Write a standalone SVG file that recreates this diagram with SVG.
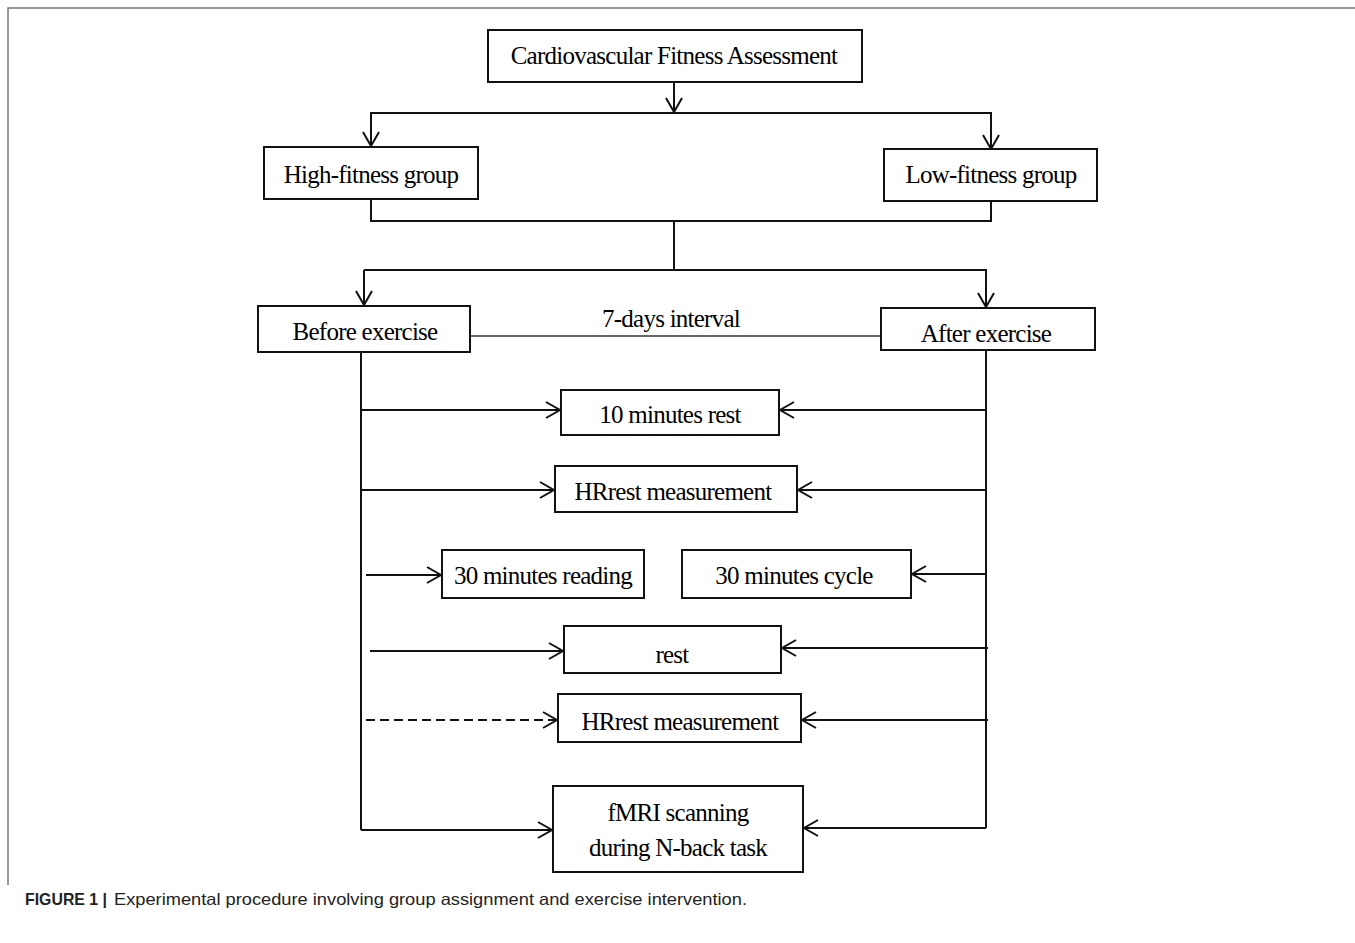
<svg xmlns="http://www.w3.org/2000/svg" width="1355" height="943" viewBox="0 0 1355 943">
<defs>
<style>
.box{fill:#fff;stroke:#111;stroke-width:2}
.t{font-family:"Liberation Serif","Times New Roman",serif;font-size:25px;fill:#000;text-anchor:middle;letter-spacing:-0.75px}
.ln{fill:none;stroke:#111;stroke-width:2}
.cap{font-family:"Liberation Sans",Arial,sans-serif;font-size:16.5px;fill:#222}
</style>
<marker id="ah" viewBox="0 0 20 20" refX="18" refY="10" markerWidth="20" markerHeight="20" markerUnits="userSpaceOnUse" orient="auto">
<path d="M4,2 L18,10 L4,18" fill="none" stroke="#111" stroke-width="2"/>
</marker>
</defs>
<rect width="1355" height="943" fill="#fff"/>
<path d="M8,885 L8,8 L1355,8" fill="none" stroke="#777" stroke-width="1.5"/>

<g id="connectors">
<path class="ln" d="M674,82 L674,112" marker-end="url(#ah)"/>
<path class="ln" d="M371,145 L371,113 L991,113 L991,149" marker-end="url(#ah)"/>
<path class="ln" d="M371,113 L371,146" marker-end="url(#ah)"/>
<path class="ln" d="M371,199 L371,221 L991,221 L991,201"/>
<path class="ln" d="M674,221 L674,270"/>
<path class="ln" d="M364,270 L986,270 L986,307" marker-end="url(#ah)"/>
<path class="ln" d="M364,270 L364,305" marker-end="url(#ah)"/>
<path d="M470,336 L881,336" fill="none" stroke="#333" stroke-width="1.5"/>
<path class="ln" d="M361,352 L361,830"/>
<path class="ln" d="M986,350 L986,828"/>
<path class="ln" d="M361,410 L560,410" marker-end="url(#ah)"/>
<path class="ln" d="M986,410 L780,410" marker-end="url(#ah)"/>
<path class="ln" d="M361,490 L554,490" marker-end="url(#ah)"/>
<path class="ln" d="M986,490 L798,490" marker-end="url(#ah)"/>
<path class="ln" d="M366,575 L441,575" marker-end="url(#ah)"/>
<path class="ln" d="M986,574 L912,574" marker-end="url(#ah)"/>
<path class="ln" d="M370,651 L563,651" marker-end="url(#ah)"/>
<path class="ln" d="M988,648 L782,648" marker-end="url(#ah)"/>
<path class="ln" d="M366,720 L557,720" stroke-dasharray="9,5" marker-end="url(#ah)"/>
<path class="ln" d="M988,720 L802,720" marker-end="url(#ah)"/>
<path class="ln" d="M361,830 L552,830" marker-end="url(#ah)"/>
<path class="ln" d="M986,828 L804,828" marker-end="url(#ah)"/>
<text class="t" x="671" y="327">7-days interval</text>
</g>

<g id="n-cfa"><rect class="box" x="488" y="30" width="374" height="52"/><text class="t" x="674" y="64">Cardiovascular Fitness Assessment</text></g>
<g id="n-high"><rect class="box" x="264" y="147" width="214" height="52"/><text class="t" x="371" y="183">High-fitness group</text></g>
<g id="n-low"><rect class="box" x="884" y="149" width="213" height="52"/><text class="t" x="991" y="183">Low-fitness group</text></g>
<g id="n-before"><rect class="box" x="258" y="306" width="212" height="46"/><text class="t" x="365" y="340">Before exercise</text></g>
<g id="n-after"><rect class="box" x="881" y="308" width="214" height="42"/><text class="t" x="986" y="342">After exercise</text></g>
<g id="n-rest10"><rect class="box" x="561" y="390" width="218" height="45"/><text class="t" x="670" y="423">10 minutes rest</text></g>
<g id="n-hr1"><rect class="box" x="555" y="466" width="242" height="46"/><text class="t" x="673" y="500">HRrest measurement</text></g>
<g id="n-read"><rect class="box" x="442" y="550" width="202" height="48"/><text class="t" x="543" y="584" font-size="24" letter-spacing="-1">30 minutes reading</text></g>
<g id="n-cycle"><rect class="box" x="682" y="550" width="229" height="48"/><text class="t" x="794" y="584">30 minutes cycle</text></g>
<g id="n-rest"><rect class="box" x="564" y="626" width="217" height="47"/><text class="t" x="672" y="663">rest</text></g>
<g id="n-hr2"><rect class="box" x="558" y="694" width="243" height="48"/><text class="t" x="680" y="730">HRrest measurement</text></g>
<g id="n-fmri"><rect class="box" x="553" y="786" width="250" height="86"/><text class="t" x="678" y="821">fMRI scanning</text><text class="t" x="678" y="856">during N-back task</text></g>

<text class="cap" x="25" y="905" font-weight="bold" textLength="82" lengthAdjust="spacingAndGlyphs">FIGURE 1 |</text>
<text class="cap" x="114" y="905" textLength="633" lengthAdjust="spacingAndGlyphs">Experimental procedure involving group assignment and exercise intervention.</text>
</svg>
